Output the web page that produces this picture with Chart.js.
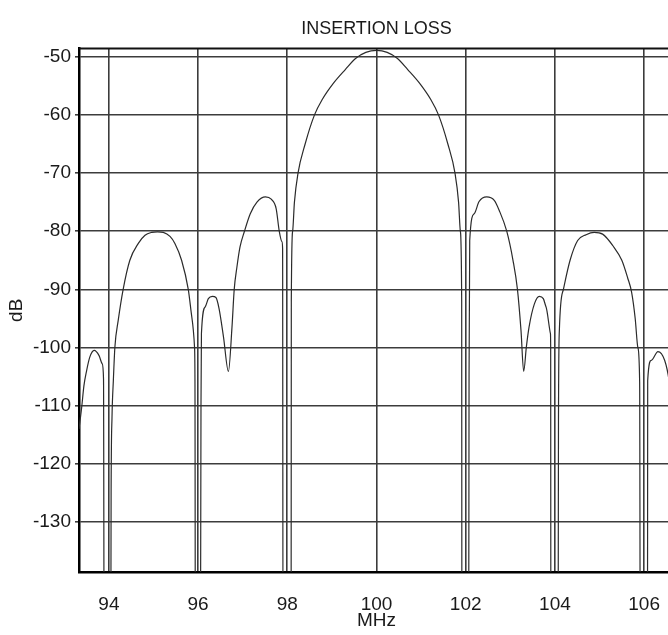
<!DOCTYPE html>
<html>
<head>
<meta charset="utf-8">
<title>Insertion Loss</title>
<script src="https://cdn.jsdelivr.net/npm/chart.js@4.4.1/dist/chart.umd.min.js"></script>
<style>
  html, body { margin: 0; padding: 0; background: #fff; overflow: hidden; }
  #wrap { width: 674px; height: 635px; }
</style>
</head>
<body>
<div id="wrap"><canvas id="chart" width="674" height="635"></canvas></div>
<script>
(() => {
  "use strict";

  // ── Data ────────────────────────────────────────────────────
  // Frequency in MHz; nulls drop far below the axis and get clipped.
  const FREQ_MHZ = [
    93.33, 93.39, 93.44, 93.50, 93.57, 93.67, 93.78, 93.85, 93.88, 93.895,
    94.04, 94.05, 94.07, 94.10, 94.135, 94.21, 94.32, 94.47, 94.66, 94.81,
    94.96, 95.09, 95.22, 95.37, 95.48, 95.63, 95.78, 95.86, 95.92, 95.93, 95.94,
    96.05, 96.065, 96.075, 96.16, 96.23, 96.32, 96.40, 96.47, 96.57, 96.68,
    96.76, 96.81, 96.87, 96.94, 97.04, 97.17, 97.32, 97.51, 97.64, 97.75,
    97.82, 97.88, 97.895, 97.905,
    98.085, 98.09, 98.12, 98.16, 98.24, 98.40, 98.61, 98.78, 99.04, 99.30,
    99.53, 99.76, 100.00, 100.24, 100.47, 100.70, 100.96, 101.22, 101.39,
    101.60, 101.76, 101.84, 101.88, 101.91, 101.915,
    102.065, 102.075, 102.09, 102.19, 102.30, 102.47, 102.64, 102.75, 102.92,
    103.06, 103.16, 103.24, 103.30, 103.36, 103.42, 103.54, 103.65, 103.74,
    103.80, 103.90, 103.905, 103.91,
    104.07, 104.08, 104.10, 104.19, 104.34, 104.51, 104.70, 104.88, 105.07,
    105.30, 105.50, 105.63, 105.72, 105.80, 105.86, 105.90, 105.915,
    106.075, 106.08, 106.16, 106.31, 106.46, 106.56, 106.62, 106.67
  ];
  const LOSS_DB = [
    -114.0, -110.3, -106.6, -104.0, -101.7, -100.5, -101.4, -102.8, -105.4, -160,
    -160, -125, -112, -105.7, -99.9, -95.3, -90.0, -85.0, -82.1, -80.7,
    -80.2, -80.1, -80.2, -80.9, -82.1, -85.0, -90.0, -94.8, -99.9, -105.7, -160,
    -160, -110, -97.6, -93.0, -91.6, -91.2, -91.4, -93.3, -98.2, -104.1,
    -96.5, -90.0, -86.2, -82.7, -80.0, -77.0, -75.0, -74.1, -74.5, -76.1,
    -80.0, -81.8, -83.0, -160,
    -160, -92.0, -80.0, -75.0, -70.0, -65.0, -60.0, -57.4, -54.5, -52.2,
    -50.3, -49.25, -48.9, -49.25, -50.3, -52.2, -54.5, -57.4, -60.0,
    -65.0, -70.0, -75.0, -80.0, -92.0, -160,
    -160, -105, -81.6, -77.0, -74.9, -74.1, -74.7, -76.4, -80.0,
    -85.0, -90.0, -97.1, -104.1, -99.9, -96.5, -92.5, -91.2, -91.6,
    -93.0, -97.6, -100, -160,
    -160, -112.6, -97.0, -90.0, -85.0, -81.6, -80.6, -80.2, -80.5,
    -82.5, -85.0, -88.0, -90.5, -95.0, -100.0, -106.0, -160,
    -160, -105.7, -102.2, -100.7, -102.2, -105.7, -110.0, -114.0
  ];

  const X_TICKS = [94, 96, 98, 100, 102, 104, 106];
  const Y_TICKS = [-130, -120, -110, -100, -90, -80, -70, -60, -50];

  // ── Style ───────────────────────────────────────────────────
  const FONT = "'Liberation Sans Narrow', 'Arial Narrow', 'Liberation Sans', Arial, sans-serif";
  const TEXT = "#1a1a1a";
  const GRID = "#3c3c3c";

  const points = FREQ_MHZ.map((f, i) => ({ x: f, y: LOSS_DB[i] }));

  // stop the tick labels from squeezing the plot area sideways
  const noSidePadding = (s) => { s.paddingLeft = 0; s.paddingRight = 0; };

  // top frame line (the right one sits just off the page)
  const framePlugin = {
    id: "frame",
    afterDraw(chart) {
      const { ctx, chartArea: a } = chart;
      ctx.save();
      ctx.strokeStyle = "#111";
      ctx.lineWidth = 2;
      ctx.beginPath();
      ctx.moveTo(a.left, a.top);
      ctx.lineTo(a.right, a.top);
      ctx.stroke();
      ctx.restore();
    },
  };

  new Chart(document.getElementById("chart"), {
    type: "line",
    data: {
      datasets: [{
        label: "Insertion loss",
        data: points,
        borderColor: "#2b2b2b",
        borderWidth: 1.2,
        pointRadius: 0,
        fill: false,
        cubicInterpolationMode: "monotone",
      }],
    },
    options: {
      responsive: false,
      animation: false,
      layout: { padding: 0 },
      plugins: {
        legend: { display: false },
        tooltip: { enabled: false },
        title: {
          display: true,
          text: "INSERTION LOSS",
          fullSize: false,
          color: TEXT,
          font: { family: FONT, size: 18, weight: "normal" },
          padding: { top: 18, bottom: 9 },
        },
      },
      scales: {
        x: {
          type: "linear",
          min: 93.33,
          max: 106.67,
          afterBuildTicks: (s) => { s.ticks = X_TICKS.map((v) => ({ value: v })); },
          afterFit: (s) => { s.height = 63; noSidePadding(s); },
          grid: { color: GRID, lineWidth: 1.6, drawTicks: false },
          border: { color: "#000", width: 2.5 },
          ticks: {
            color: TEXT,
            font: { family: FONT, size: 19 },
            padding: 21,
            maxRotation: 0,
            autoSkip: false,
            callback: (v) => v,
          },
          title: {
            display: true,
            text: "MHz",
            color: TEXT,
            font: { family: FONT, size: 19 },
            padding: { top: 0, bottom: 3 },
          },
        },
        y: {
          min: -138.6,
          max: -48.6,
          afterBuildTicks: (s) => { s.ticks = Y_TICKS.map((v) => ({ value: v })); },
          afterFit: (s) => { s.width = 79; },
          grid: { color: GRID, lineWidth: 1.6, tickLength: 4 },
          border: { color: "#000", width: 2.5 },
          ticks: {
            color: TEXT,
            font: { family: FONT, size: 19 },
            padding: 4,
            autoSkip: false,
            callback: (v) => v,
          },
          title: {
            display: true,
            text: "dB",
            color: TEXT,
            font: { family: FONT, size: 19 },
            padding: { top: 5, bottom: 0 },
          },
        },
      },
    },
    plugins: [framePlugin],
  });
})();
</script>
</body>
</html>
